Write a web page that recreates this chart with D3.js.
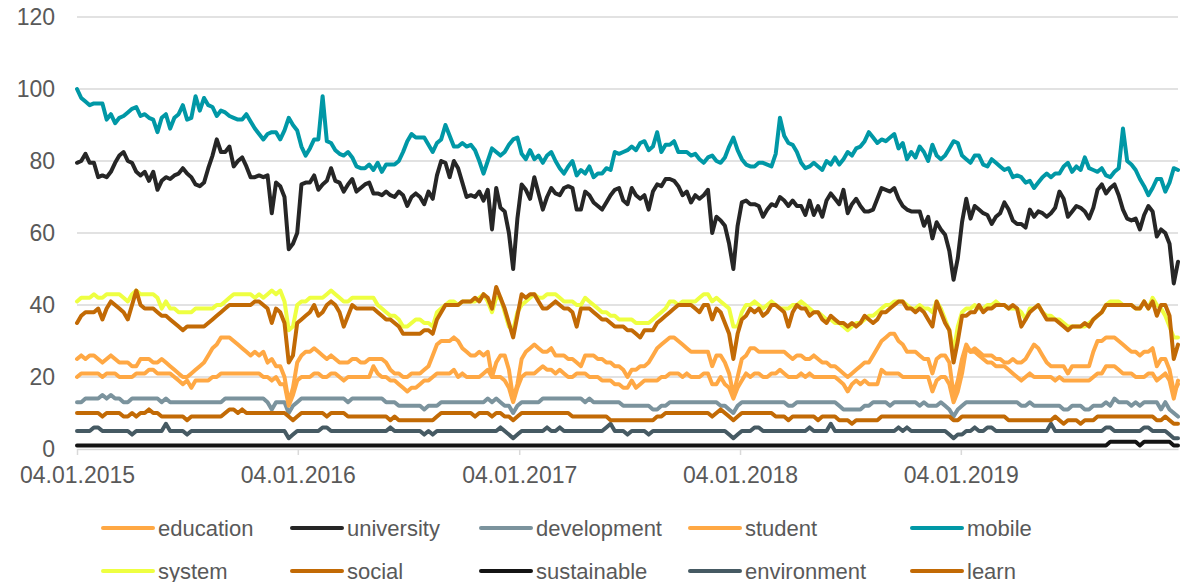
<!DOCTYPE html>
<html lang="en">
<head>
    <meta charset="UTF-8">
    <title>Weekly search interest 2015-2019</title>
    <script src="https://d3js.org/d3.v7.min.js"></script>
    <style>
        body { margin: 0; background: #fff; }
        text { font-family: "Liberation Sans", Arial, sans-serif; fill: #595959; }
    </style>
</head>
<body>
    <div id="chart"></div>

    <script>
        // Weekly values, first week 04.01.2015
        var education = [
            25,26,25,26,26,25,24,25,26,25, 24,24,24,23,23,25,25,25,24,24, 25,24,23,22,21,20,20,21,22,23,
            24,26,28,29,31,31,31,30,29,28, 27,26,27,26,27,24,25,23,23,20, 13,17,
            24,26,27,27,28,27,26,25,26,25, 24,24,24,25,25,24,24,25,25,25, 25,24,22,21,21,20,20,21,21,21,
            22,23,26,29,30,30,30,31,30,28, 27,26,26,27,26,27,20,24,26,26, 22,14,
            18,25,27,28,29,28,27,27,28,26, 26,26,25,25,24,23,26,26,26,25, 25,24,24,23,23,22,20,22,22,23,
            23,24,26,28,29,30,31,31,30,29, 28,27,27,27,27,27,23,26,26,24, 21,15,
            20,25,26,28,28,27,27,27,27,27, 27,27,26,25,26,26,25,25,26,25, 24,24,23,23,22,21,20,21,22,23,
            24,24,26,28,30,31,32,32,30,29, 27,27,27,26,25,25,21,25,26,26, 24,15,
            19,25,29,27,28,27,26,26,26,25, 25,24,24,25,24,24,25,27,29,28, 26,24,23,23,23,23,21,23,23,23,
            23,23,27,30,30,31,31,31,30,29, 28,27,27,26,27,27,28,23,25,25, 22,16,18
        ];
        var university = [
            79.5,80,82,79.5,79.5,75.5,76,75.5,77,79.5, 81.5,82.5,80,79.5,77,76,77,74.5,77,72,
            74.5,75.5,75,76,76.5,78,76.5,75.5,73.5,73, 74,78,81.5,86,82.5,82.5,84,78.5,80,81,
            78.5,75.5,75.5,76,75.5,76,65.5,74,73,70, 55.5,57,
            60,73.5,74,74,76,72,73.5,74.5,78,74.5, 74,71.5,73.5,75,71.5,72.5,73.5,74,71,71,
            70.5,71.5,70.5,70,71.5,70.5,67.5,70,71,70, 68,71.5,69.5,76,80,79.5,75.5,80,78,74,
            70,70.5,70,71.5,69,72,61,72.5,67,66, 60,50,
            64,73.5,72,69.5,75.5,71,66.5,70,72.5,71, 70.5,72.5,73,72.5,66.5,66.5,71.5,70.5,68.5,67.5,
            66.5,68.5,70.5,72,72.5,69,68,72.5,70.5,69.5, 70.5,66.5,71.5,73.5,73,75,75,74.5,73,70.5,
            71.5,68.5,70.5,69.5,70.5,72,60,64.5,63.5,62, 57,50,
            62,68.5,69,68,68,67.5,64.5,66.5,68,67.5, 70,69,67.5,69,67.5,67.5,65,69,65,67.5,
            64.5,69,71,69.5,68,72,65.5,68,69.5,67.5, 66,66,66.5,69.5,72.5,72,71.5,72.5,69.5,67.5,
            66.5,66,66,66,62,64.5,58.5,63,61,59.5, 55,47,
            53,63,69.5,64,67.5,66.5,65.5,65,62.5,64.5, 65.5,68.5,66.5,63.5,62.5,62.5,61.5,66.5,64.5,66,
            65.5,64.5,65.5,67,71.5,69.5,64.5,66,67.5,67, 66,64,67,72,73.5,71,72.5,73.5,70.5,66.5,
            64,63.5,64,61,65,67.5,66,59,61,60, 57,46,52
        ];
        var development = [
            13,13,14,14,14,14,15,14,15,14, 14,13,13,14,14,14,14,14,14,14, 13,14,13,13,13,13,13,13,13,13,
            13,13,13,13,13,14,14,14,14,14, 14,14,14,14,14,13,11,13,13,13, 10,12,
            13,14,14,14,14,14,14,14,14,14, 14,14,13,14,14,14,14,14,14,14, 14,13,13,13,12,12,12,12,12,12,
            11,12,12,12,13,13,13,13,13,13, 13,13,13,13,13,14,13,14,13,12, 12,10,
            12,13,13,13,13,13,14,14,14,14, 14,14,14,14,14,14,13,14,13,13, 13,13,13,13,13,12,12,12,12,12,
            12,12,11,11,12,12,13,13,13,13, 13,13,13,13,13,13,13,13,12,12, 11,10,
            12,13,13,13,13,13,13,13,13,13, 13,13,12,12,13,13,13,13,13,13, 13,13,13,13,12,11,11,11,11,11,
            12,12,13,13,13,13,12,13,13,13, 13,13,13,12,13,12,12,12,13,12, 11,9,
            11,12,13,13,13,13,13,13,13,13, 13,13,13,13,13,12,12,13,12,12, 12,12,12,12,12,11,11,12,12,12,
            11,11,12,12,12,13,12,14,13,13, 13,12,13,12,13,13,13,13,11,13, 11,10,9
        ];
        var student = [
            20,21,21,21,21,21,20,21,21,21, 20,20,20,20,21,21,21,22,22,21, 21,21,21,20,19,18,19,17,19,19,
            19,19,20,20,21,21,21,21,21,21, 21,21,21,21,20,20,19,20,18,18, 12,15,
            19,20,20,20,21,21,20,20,21,21, 20,19,20,20,20,20,20,20,23,21, 20,20,19,19,18,17,16,17,17,18,
            19,19,20,21,21,21,21,22,20,21, 20,20,20,20,21,22,20,20,20,19, 17,13,
            17,20,21,21,21,22,23,22,22,21, 22,21,20,20,21,21,21,20,20,20, 19,19,19,18,18,17,17,19,17,18,
            19,19,19,19,20,20,21,21,21,20, 21,20,20,20,21,21,18,18,20,18, 17,14,
            17,19,21,20,21,21,20,20,21,21, 22,21,20,20,20,21,20,21,20,20, 20,20,20,20,19,18,16,18,19,18,
            19,18,18,18,22,21,21,21,21,20, 20,20,20,20,20,20,16,19,20,20, 18,13,
            16,21,28,27,27,26,25,24,24,23, 23,23,22,21,20,19,20,21,20,20, 20,20,20,19,20,19,19,19,19,19,
            19,19,20,21,21,23,23,23,22,21, 21,21,20,20,20,21,21,19,20,21, 19,14,19
        ];
        var mobile = [
            100,97.5,96.5,95.5,96,96,96,91.5,93,90.5, 92,92.5,93.5,94.5,95,92.5,93,92,91.5,88,
            92,93,89,92,93,95.5,91.5,92,98,94, 97.5,95.5,95,92.5,94,93.5,92.5,92,91.5,91.5,
            93,91,89,87.5,86,87.5,88,88,86,88.5, 92,90,
            88.5,84,81.5,83.5,86,86,98,85.5,85,83, 82,81.5,82.5,81,78.5,78,78,79,77.5,79.5,
            77,79,79,79,80,82.5,85.5,87.5,86.5,86.5, 86.5,84.5,82.5,85,86,90,87,84,84,85,
            84,84.5,83,80,76.5,80,83.5,82.5,81.5,82.5, 84.5,86,
            86.5,82,80.5,83,80.5,81.5,79.5,81.5,82.5,80, 78,76.5,78.5,80,76,77.5,76.5,78.5,75.5,76.5,
            76.5,78,77.5,82.5,82,82.5,83,84,83,85, 85.5,83,84,88,82.5,84.5,84.5,85.5,82.5,82.5,
            82.5,81.5,82,80.5,79.5,81,81.5,80,79.5,81, 84,86.5,
            83,80.5,79,78.5,78.5,79.5,79.5,79,78.5,82, 92,87,85,84.5,82.5,79.5,78,78.5,79.5,78.5,
            77.5,80,79,81,79,80.5,82.5,81.5,83.5,84, 85.5,88,86.5,85,86,85.5,86.5,87.5,83.5,85,
            80.5,82.5,81,84,82.5,80,84.5,81.5,80.5,81.5, 83.5,85.5,
            85,81.5,80.5,79.5,81.5,81.5,79,78.5,80.5,79.5, 78.5,77.5,78,75.5,76,75.5,74,74.5,72.5,74,
            75.5,76.5,75.5,76.5,76.5,78.5,79.5,77,78.5,77.5, 81,78,77.5,77,78,76,75.5,77,78,89,
            80,79,77.5,75,73,70.5,72.5,75,75,71.5, 74,78,77.5
        ];
        var system = [
            41,42,42,42,43,42,42,43,43,43, 43,42,41,43,44,43,43,43,43,42, 39,41,39,39,38,38,38,38,39,39,
            39,39,39,40,40,41,42,43,43,43, 43,43,42,43,42,43,44,43,44,41, 33,34,
            40,41,41,42,42,42,42,43,44,43, 42,41,41,42,42,42,42,42,42,40, 39,38,37,37,36,34,34,35,36,36,
            35,35,34,38,39,40,41,41,40,41, 41,41,41,42,43,41,38,42,42,38, 34,33,
            38,40,41,42,43,42,42,43,43,43, 42,41,41,41,40,40,42,41,40,39, 38,38,37,37,36,36,36,36,35,35,
            35,35,36,37,38,39,41,41,40,41, 41,41,41,42,43,43,41,42,41,40, 39,34,
            34,38,40,40,41,40,39,40,41,40, 39,39,39,40,40,41,40,39,38,38, 37,36,36,35,35,34,33,34,35,35,
            36,37,37,38,39,40,40,41,41,41, 40,39,39,40,39,39,38,41,39,36, 33,27,
            34,38,39,39,40,39,39,40,40,41, 40,40,39,39,39,38,36,39,39,40, 38,37,37,36,36,35,34,34,34,34,
            34,35,36,37,38,40,41,41,41,40, 40,40,39,39,41,39,42,40,39,37, 34,31,31
        ];
        var social = [
            35,37,38,38,38,39,36,39,41,40, 39,38,36,40,44,40,39,39,39,38, 37,37,36,35,34,33,34,34,34,34,
            34,35,36,37,38,39,40,40,40,40, 40,40,41,41,40,39,35,39,38,35, 24,26,
            35,36,37,38,40,37,38,40,41,40, 38,34,37,40,39,39,39,39,39,38, 37,36,36,35,34,32,32,32,32,32,
            33,33,32,36,38,40,40,40,40,41, 41,41,42,41,43,42,39,45,42,39, 35,31,
            37,43,42,43,43,41,39,39,40,41, 40,39,39,38,34,39,39,39,38,37, 36,36,35,34,34,34,33,33,32,31,
            33,33,33,35,36,37,38,39,40,40, 40,40,39,38,40,40,36,39,38,35, 32,25,
            32,36,37,39,38,39,37,38,40,40, 39,38,34,38,40,39,39,37,38,38, 36,35,37,36,35,35,34,35,34,35,
            37,36,35,36,38,38,39,40,41,41, 39,39,38,39,38,36,34,41,38,35, 33,24,
            30,37,37,38,38,40,38,39,39,40, 40,40,39,40,39,34,36,38,39,40, 38,36,36,36,35,34,33,34,34,34,
            35,34,36,37,38,40,40,40,40,40, 40,40,39,39,41,39,41,37,40,40, 37,25,29
        ];
        var sustainable = [
            1,1,1,1,1,1,1,1,1,1, 1,1,1,1,1,1,1,1,1,1, 1,1,1,1,1,1,1,1,1,1, 1,1,1,1,1,1,1,1,1,1,
            1,1,1,1,1,1,1,1,1,1, 1,1,1,1,1,1,1,1,1,1, 1,1,1,1,1,1,1,1,1,1, 1,1,1,1,1,1,1,1,1,1,
            1,1,1,1,1,1,1,1,1,1, 1,1,1,1,1,1,1,1,1,1, 1,1,1,1,1,1,1,1,1,1, 1,1,1,1,1,1,1,1,1,1,
            1,1,1,1,1,1,1,1,1,1, 1,1,1,1,1,1,1,1,1,1, 1,1,1,1,1,1,1,1,1,1, 1,1,1,1,1,1,1,1,1,1,
            1,1,1,1,1,1,1,1,1,1, 1,1,1,1,1,1,1,1,1,1, 1,1,1,1,1,1,1,1,1,1, 1,1,1,1,1,1,1,1,1,1,
            1,1,1,1,1,1,1,1,1,1, 1,1,1,1,1,1,1,1,1,1, 1,1,1,1,1,1,1,1,1,1, 1,1,1,1,1,1,1,1,1,1,
            1,1,1,1,
            2,2,2,2,2,2,2, 1, 2,2,2,2,2,2,2, 1,1
        ];
        var environment = [
            5,5,5,5,6,6,5,5,5,5, 5,5,5,4,5,5,5,5,5,5, 5,7,5,5,5,5,4,5,5,5,
            5,5,5,5,5,5,5,5,5,5, 5,5,5,5,5,5,5,5,5,5, 3,4,
            5,5,5,5,5,5,6,6,5,5, 5,5,5,5,5,5,5,5,5,5, 5,5,6,5,5,5,5,5,5,5,
            4,5,4,5,5,5,5,5,5,5, 5,5,5,5,5,5,5,5,6,5, 4,3,
            4,5,5,5,5,5,5,6,5,5, 6,5,5,5,5,5,5,5,5,5, 5,6,7,5,5,5,4,5,5,5,
            5,4,5,5,5,5,5,5,5,5, 5,5,5,5,5,5,5,5,5,5, 4,3,
            4,5,5,5,6,6,5,5,5,5, 5,5,5,5,5,5,5,6,5,5, 5,5,7,5,5,5,5,5,5,5,
            5,5,5,5,5,5,5,5,6,5, 6,5,5,5,5,5,5,5,5,5, 4,3,
            4,4,5,5,6,5,5,6,6,5, 5,5,5,5,5,5,5,5,5,5, 5,5,7,5,5,5,5,5,5,5,
            5,5,5,5,5,6,6,5,5,5, 5,5,5,5,6,6,5,5,5,5, 4,3,3
        ];
        var learn = [
            10,10,10,10,10,10,9,10,10,10, 10,9,9,10,9,10,10,11,10,10, 9,9,9,9,9,9,8,9,9,9,
            9,9,9,9,9,10,11,11,10,11, 10,10,10,10,10,10,10,10,10,10, 9,8,
            9,10,10,10,10,10,10,9,10,10, 10,10,9,9,9,9,9,9,9,9, 9,9,8,9,8,8,8,8,8,8,
            8,8,8,9,10,10,10,10,10,10, 10,10,9,10,10,10,9,10,10,9, 9,8,
            9,10,10,10,10,10,10,10,10,10, 10,10,10,9,9,9,9,9,9,9, 9,9,8,8,8,8,8,8,8,8,
            8,8,8,9,9,10,10,10,10,10, 10,10,10,10,10,10,9,10,11,10, 9,8,
            9,10,10,10,10,10,10,10,10,9, 9,9,8,9,9,9,9,9,9,8, 9,9,9,9,8,8,8,7,8,8,
            8,8,8,8,9,9,9,9,9,9, 9,9,9,9,9,9,9,9,9,9, 9,8,
            8,9,9,9,9,9,9,9,9,9, 9,9,8,8,8,8,8,8,8,8, 8,8,8,9,8,7,8,8,8,7,
            8,8,8,9,9,9,9,9,9,9, 9,9,9,9,9,9,9,8,8,9, 8,7,7
        ];

        var seriesNames = ["education", "university", "development", "student", "mobile",
            "system", "social", "sustainable", "environment", "learn"];
        var seriesValues = [education, university, development, student, mobile,
            system, social, sustainable, environment, learn];
        var seriesColors = ["#ffa844", "#262626", "#7b939d", "#ffa844", "#0098a6",
            "#eeff41", "#c26a05", "#141414", "#465a63", "#c26a05"];
        var yTicks = [0, 20, 40, 60, 80, 100, 120];
        var xTickLabels = ["04.01.2015", "04.01.2016", "04.01.2017", "04.01.2018", "04.01.2019"];

        var width = 1180, height = 582;
        var firstWeek = new Date(Date.UTC(2015, 0, 4));
        var weeks = d3.range(education.length).map(function(i) {
            return d3.utcDay.offset(firstWeek, 7 * i);
        });
        var parseTick = d3.utcParse("%d.%m.%Y");

        var svg = d3.select("#chart")
            .append("svg")
            .attr("width", width)
            .attr("height", height);

        var x = d3.scaleUtc()
            .domain([weeks[0], weeks[weeks.length - 1]])
            .range([77, 1178]);

        var y = d3.scaleLinear()
            .domain([0, 120])
            .range([449, 17]);

        // gridlines
        svg.append("g")
            .selectAll("line")
            .data(yTicks.filter(function(d) { return d > 0; }))
            .enter()
            .append("line")
            .attr("x1", 77)
            .attr("x2", 1178)
            .attr("y1", function(d) { return y(d); })
            .attr("y2", function(d) { return y(d); })
            .attr("stroke", "#d9d9d9")
            .attr("stroke-width", 1.5);

        // y axis labels
        var yAxis = svg.append("g")
            .attr("transform", "translate(77,0)")
            .call(d3.axisLeft(y).tickValues(yTicks).tickSize(0).tickPadding(22));
        yAxis.select(".domain").remove();
        yAxis.selectAll("text")
            .style("font-size", "23px")
            .attr("fill", "#595959");

        // x axis
        var xAxis = svg.append("g")
            .attr("transform", "translate(0," + y(0) + ")")
            .call(d3.axisBottom(x)
                .tickValues(xTickLabels.map(parseTick))
                .tickFormat(d3.utcFormat("%d.%m.%Y"))
                .tickSize(6)
                .tickSizeOuter(0)
                .tickPadding(12));
        xAxis.select(".domain")
            .attr("stroke", "#d9d9d9")
            .attr("stroke-width", 1.5);
        xAxis.selectAll(".tick line")
            .attr("stroke", "#d9d9d9")
            .attr("stroke-width", 1.5);
        xAxis.selectAll("text")
            .style("font-size", "23px")
            .attr("fill", "#595959");

        // lines
        var line = d3.line()
            .x(function(d, i) { return x(weeks[i]); })
            .y(function(d) { return y(d); });

        svg.append("g")
            .selectAll("path")
            .data(seriesValues)
            .enter()
            .append("path")
            .attr("d", line)
            .attr("fill", "none")
            .attr("stroke", function(d, i) { return seriesColors[i]; })
            .attr("stroke-width", 4)
            .attr("stroke-linejoin", "round")
            .attr("stroke-linecap", "round");

        // legend, two rows of five
        var legendX = [103, 292, 481, 690, 912];
        var legendY = [528, 571];

        var legend = svg.append("g")
            .selectAll("g")
            .data(seriesNames)
            .enter()
            .append("g")
            .attr("transform", function(d, i) {
                return "translate(" + legendX[i % 5] + "," + legendY[Math.floor(i / 5)] + ")";
            });

        legend.append("line")
            .attr("x1", 0)
            .attr("x2", 50)
            .attr("stroke", function(d, i) { return seriesColors[i]; })
            .attr("stroke-width", 4)
            .attr("stroke-linecap", "round");

        legend.append("text")
            .attr("x", 55)
            .attr("dy", "0.35em")
            .style("font-size", "22px")
            .text(function(d) { return d; });
    </script>
</body>
</html>
